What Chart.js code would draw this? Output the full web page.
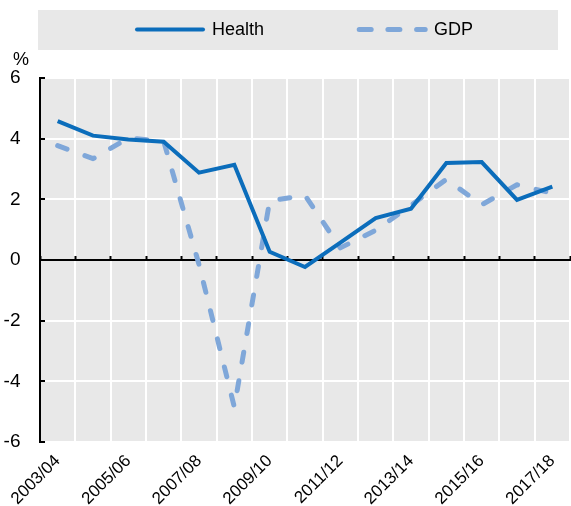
<!DOCTYPE html>
<html>
<head>
<meta charset="utf-8">
<script src="https://cdn.jsdelivr.net/npm/chart.js@4.4.0/dist/chart.umd.min.js"></script>
<style>
html,body{margin:0;padding:0;background:#ffffff;}
#wrap{width:571px;height:506px;position:relative;}
</style>
</head>
<body>
<div id="wrap"><canvas id="c" width="571" height="506"></canvas></div>
<script>
// ---- data ----
const categories = ['2003/04','2004/05','2005/06','2006/07','2007/08','2008/09','2009/10','2010/11','2011/12','2012/13','2013/14','2014/15','2015/16','2016/17','2017/18'];
const healthValues = [4.58, 4.10, 3.97, 3.90, 2.88, 3.14, 0.27, -0.23, 0.57, 1.38, 1.69, 3.20, 3.23, 1.98, 2.42];
const gdpValues = [3.77, 3.34, 4.02, 3.92, -0.15, -4.85, 1.95, 2.13, 0.40, 0.98, 1.80, 2.66, 1.82, 2.48, 2.20];
const xTickLabels = ['2003/04','2005/06','2007/08','2009/10','2011/12','2013/14','2015/16','2017/18'];
const yTickValues = [-6, -4, -2, 0, 2, 4, 6];
const seriesNames = ['Health', 'GDP'];
const unitLabel = '%';

// ---- styles ----
const FONT = '"Liberation Sans Narrow", "Arial Narrow", "Liberation Sans", Arial, sans-serif';
const HEALTH_COLOR = '#0b6dbb';
const GDP_COLOR = '#7fa7d9';
const PANEL = '#e8e8e8';

const backgroundPlugin = {
  id: 'panelBackground',
  beforeDraw(chart) {
    const {ctx, chartArea} = chart;
    ctx.save();
    ctx.fillStyle = PANEL;
    ctx.fillRect(chartArea.left, chartArea.top, chartArea.right - chartArea.left, chartArea.bottom - chartArea.top);
    ctx.restore();
  }
};

const legendPlugin = {
  id: 'boxLegend',
  afterDraw(chart) {
    const ctx = chart.ctx;
    ctx.save();
    ctx.fillStyle = PANEL;
    ctx.fillRect(38, 10, 520, 40);
    const y = 29.5;
    // Health
    ctx.strokeStyle = chart.data.datasets[0].borderColor;
    ctx.lineWidth = 4;
    ctx.lineCap = 'round';
    ctx.setLineDash([]);
    ctx.beginPath(); ctx.moveTo(137, y); ctx.lineTo(203, y); ctx.stroke();
    // GDP
    ctx.strokeStyle = chart.data.datasets[1].borderColor;
    ctx.lineWidth = 5;
    ctx.setLineDash([12, 16.7]);
    ctx.beginPath(); ctx.moveTo(359.2, y); ctx.lineTo(425.2, y); ctx.stroke();
    ctx.setLineDash([]);
    ctx.fillStyle = '#000';
    ctx.font = '18px ' + FONT;
    ctx.textBaseline = 'middle';
    ctx.textAlign = 'left';
    ctx.fillText(chart.data.datasets[0].label, 212, y + 0.5);
    ctx.fillText(chart.data.datasets[1].label, 434, y + 0.5);
    // unit label
    ctx.textBaseline = 'alphabetic';
    ctx.fillText(unitLabel, 13, 64.5);
    ctx.restore();
  }
};

new Chart(document.getElementById('c'), {
  type: 'line',
  data: {
    labels: categories,
    datasets: [
      {
        label: seriesNames[0],
        data: healthValues,
        borderColor: HEALTH_COLOR,
        borderWidth: 4,
        borderJoinStyle: 'miter',
        pointRadius: 0,
        tension: 0,
        fill: false
      },
      {
        label: seriesNames[1],
        data: gdpValues,
        borderColor: GDP_COLOR,
        borderWidth: 5,
        borderDash: [10, 19],
        borderCapStyle: 'round',
        borderJoinStyle: 'round',
        pointRadius: 0,
        tension: 0,
        fill: false
      }
    ]
  },
  options: {
    responsive: false,
    animation: false,
    devicePixelRatio: 1,
    layout: { padding: { top: 78, right: 1, bottom: 0, left: 0 } },
    plugins: { legend: { display: false }, tooltip: { enabled: false }, title: { display: false } },
    scales: {
      x: {
        type: 'category',
        position: 'bottom',
        offset: true,
        grid: { offset: true, color: '#ffffff', lineWidth: 2, drawTicks: false, z: -2 },
        border: { display: false },
        ticks: {
          autoSkip: false,
          minRotation: 45,
          maxRotation: 45,
          padding: 9,
          color: '#000',
          font: { family: FONT, size: 17 },
          callback: function(value, index) {
            const c = categories[index];
            return xTickLabels.includes(c) ? c : '';
          }
        },
        afterFit: function(s) { s.height = 64; s.paddingLeft = 0; s.paddingRight = 0; }
      },
      xZero: {
        type: 'category',
        axis: 'x',
        position: { y: 0 },
        offset: true,
        grid: { offset: true, drawOnChartArea: false, drawTicks: true, tickLength: -5, tickColor: '#000', tickWidth: 2, z: -1 },
        border: { display: true, color: '#000', width: 2, z: 0 },
        ticks: { display: false, autoSkip: false },
        afterFit: function(s) { s.paddingLeft = 0; s.paddingRight = 0; }
      },
      y: {
        type: 'linear',
        position: 'left',
        min: -6,
        max: 6,
        afterBuildTicks: function(s) { s.ticks = yTickValues.map(v => ({ value: v })); },
        grid: { color: '#ffffff', lineWidth: 2, drawTicks: true, tickLength: -5, tickColor: '#000', tickWidth: 2, z: -2 },
        border: { display: true, color: '#000', width: 2, z: 0 },
        ticks: {
          padding: 24.5,
          color: '#000',
          font: { family: FONT, size: 19 },
          callback: function(v) { return String(v); }
        },
        afterFit: function(s) { s.width = 40; }
      }
    }
  },
  plugins: [backgroundPlugin, legendPlugin]
});
</script>
</body>
</html>
